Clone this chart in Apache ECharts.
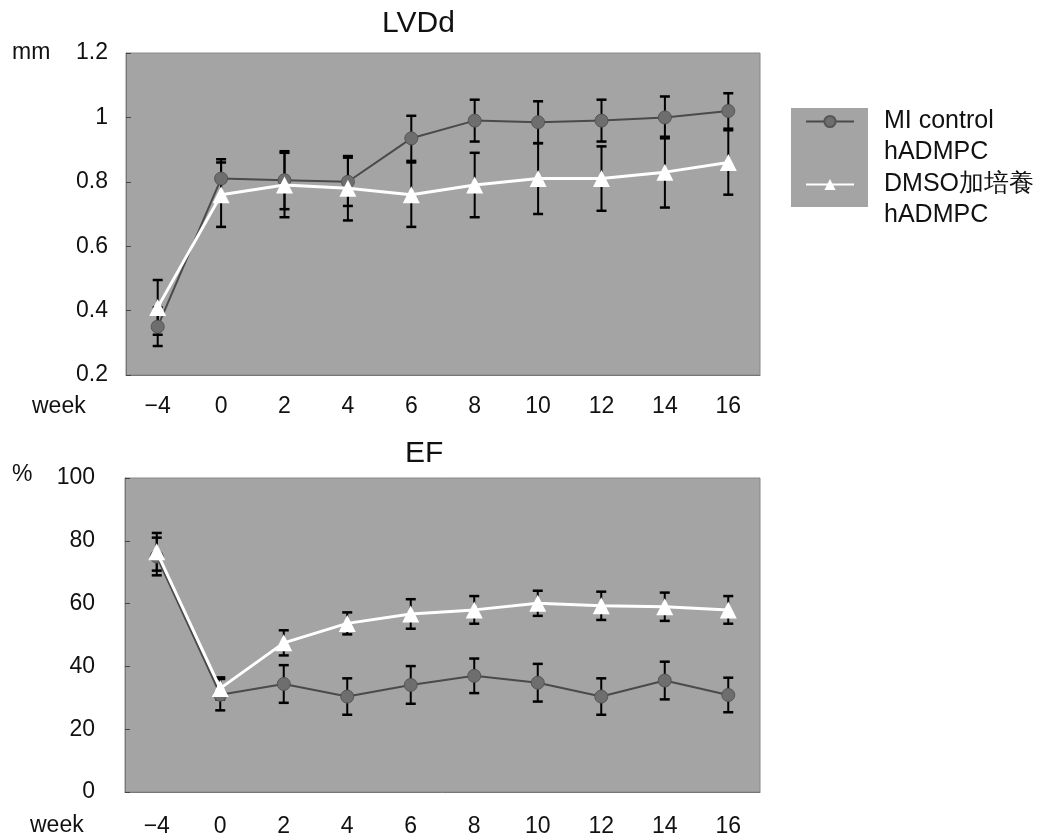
<!DOCTYPE html>
<html>
<head>
<meta charset="utf-8">
<script src="https://cdn.jsdelivr.net/npm/echarts@6/dist/echarts.min.js"></script>
<style>
  html, body { margin: 0; padding: 0; background: #fff; }
  #chart { width: 1056px; height: 840px; }
</style>
</head>
<body>
<div id="chart"></div>
<script>
(function () {
    'use strict';

    // weeks on the x axis
    var weeks = ['−4', '0', '2', '4', '6', '8', '10', '12', '14', '16'];

    // LVDd (mm)
    var lvdMI = [0.35, 0.81, 0.805, 0.80, 0.935, 0.99, 0.985, 0.99, 1.00, 1.02];
    var lvdMIerr = [0.06, 0.06, 0.09, 0.075, 0.07, 0.065, 0.065, 0.065, 0.065, 0.055];
    var lvdDM = [0.41, 0.76, 0.79, 0.78, 0.76, 0.79, 0.81, 0.81, 0.83, 0.86];
    var lvdDMerr = [0.085, 0.10, 0.10, 0.10, 0.10, 0.10, 0.11, 0.10, 0.11, 0.10];

    // EF (%)
    var efMI = [75, 31, 34.4, 30.4, 34.1, 37, 34.8, 30.4, 35.5, 30.9];
    var efMIerr = [6, 5, 6, 5.8, 6, 5.5, 6, 5.8, 6, 5.5];
    var efDM = [76.5, 33, 47.5, 53.7, 56.7, 58, 60.1, 59.3, 59, 58];
    var efDMerr = [6, 3.5, 4, 3.5, 4.7, 4.4, 4, 4.5, 4.5, 4.4];

    var nameMI = 'MI control\nhADMPC';
    var nameDM = 'DMSO加培養\nhADMPC';

    var FONT = 'Liberation Sans, Arial, sans-serif';
    var PLOT_BG = '#a4a4a4';

    function errData(mean, err) {
        return mean.map(function (m, i) { return [i, m - err[i], m + err[i]]; });
    }

    function errItem(params, api) {
        var lo = api.coord([api.value(0), api.value(1)]);
        var hi = api.coord([api.value(0), api.value(2)]);
        var w = 5;
        var cap = { stroke: '#000', lineWidth: 2.5 };
        return {
            type: 'group',
            children: [
                { type: 'line', shape: { x1: hi[0], y1: hi[1], x2: lo[0], y2: lo[1] }, style: { stroke: '#000', lineWidth: 2 } },
                { type: 'line', shape: { x1: hi[0] - w, y1: hi[1], x2: hi[0] + w, y2: hi[1] }, style: cap },
                { type: 'line', shape: { x1: lo[0] - w, y1: lo[1], x2: lo[0] + w, y2: lo[1] }, style: cap }
            ]
        };
    }

    function errSeries(mean, err, idx) {
        return {
            type: 'custom', xAxisIndex: idx, yAxisIndex: idx, z: 1,
            renderItem: errItem, encode: { x: 0, y: [1, 2] },
            data: errData(mean, err), silent: true
        };
    }

    function miSeries(data, idx) {
        return {
            name: nameMI, type: 'line', xAxisIndex: idx, yAxisIndex: idx, z: 2,
            data: data, symbol: 'circle', symbolSize: 13,
            itemStyle: { color: '#6e6e6e', borderColor: '#555', borderWidth: 1 },
            lineStyle: { color: '#4a4a4a', width: 2 }
        };
    }

    function dmSeries(data, idx) {
        return {
            name: nameDM, type: 'line', xAxisIndex: idx, yAxisIndex: idx, z: 3,
            data: data, symbol: 'triangle', symbolSize: 17,
            itemStyle: { color: '#ffffff' },
            lineStyle: { color: '#ffffff', width: 3 }
        };
    }

    function xAx(idx, margin) {
        return {
            type: 'category', gridIndex: idx, data: weeks, boundaryGap: true,
            axisLine: { lineStyle: { color: '#777', width: 1 } },
            axisTick: { inside: true, length: 6, lineStyle: { color: '#444' } },
            axisLabel: { color: '#111', fontSize: 23, fontFamily: FONT, margin: margin },
            splitLine: { show: false }
        };
    }

    function yAx(idx, min, max, interval, margin) {
        return {
            type: 'value', gridIndex: idx, min: min, max: max, interval: interval,
            axisLine: { show: true, lineStyle: { color: '#777', width: 1 } },
            axisTick: { show: true, inside: true, length: 5, lineStyle: { color: '#444' } },
            axisLabel: { color: '#111', fontSize: 23, fontFamily: FONT, margin: margin },
            splitLine: { show: false }
        };
    }

    // first text line sits level with the icon, text starts right of the grey box
    function legendFmt(name) {
        return '{t| }\n' + name.split('\n').map(function (s) {
            return '{g| }{t|' + s + '}';
        }).join('\n');
    }
    var legendText = {
        rich: {
            g: { width: 25, fontSize: 25, lineHeight: 31 },
            t: { color: '#111', fontSize: 25, fontFamily: FONT, lineHeight: 31 }
        }
    };

    var chart = echarts.init(document.getElementById('chart'));
    chart.setOption({
        animation: false,
        backgroundColor: '#ffffff',
        title: [
            { text: 'LVDd', left: 382, top: 9, padding: 0, textStyle: { fontSize: 30, fontWeight: 'normal', color: '#111', fontFamily: FONT } },
            { text: 'EF', left: 405, top: 439, padding: 0, textStyle: { fontSize: 30, fontWeight: 'normal', color: '#111', fontFamily: FONT } }
        ],
        grid: [
            { left: 126, top: 53, width: 634, height: 322, show: true, backgroundColor: PLOT_BG, borderColor: '#888', borderWidth: 1 },
            { left: 125, top: 478, width: 635, height: 314, show: true, backgroundColor: PLOT_BG, borderColor: '#888', borderWidth: 1 }
        ],
        xAxis: [xAx(0, 20), xAx(1, 23)],
        yAxis: [yAx(0, 0.2, 1.2, 0.2, 18), yAx(1, 0, 100, 20, 30)],
        legend: [
            { data: [nameMI], orient: 'vertical', left: 805, top: 78, padding: 0, itemWidth: 48, itemHeight: 14, formatter: legendFmt, textStyle: legendText, selectedMode: false },
            { data: [nameDM], orient: 'vertical', left: 805, top: 141, padding: 0, itemWidth: 48, itemHeight: 14, formatter: legendFmt, textStyle: legendText, selectedMode: false }
        ],
        graphic: [
            { type: 'rect', left: 791, top: 108, z: -1, shape: { width: 77, height: 99 }, style: { fill: PLOT_BG } },
            { type: 'text', left: 12, top: 41, style: { text: 'mm', fontSize: 23, fontFamily: FONT, fill: '#111' } },
            { type: 'text', left: 12, top: 463, style: { text: '%', fontSize: 23, fontFamily: FONT, fill: '#111' } },
            { type: 'text', left: 32, top: 395, style: { text: 'week', fontSize: 23, fontFamily: FONT, fill: '#111' } },
            { type: 'text', left: 30, top: 814, style: { text: 'week', fontSize: 23, fontFamily: FONT, fill: '#111' } }
        ],
        series: [
            errSeries(lvdMI, lvdMIerr, 0),
            errSeries(lvdDM, lvdDMerr, 0),
            miSeries(lvdMI, 0),
            dmSeries(lvdDM, 0),
            errSeries(efMI, efMIerr, 1),
            errSeries(efDM, efDMerr, 1),
            miSeries(efMI, 1),
            dmSeries(efDM, 1)
        ]
    });
})();
</script>
</body>
</html>
